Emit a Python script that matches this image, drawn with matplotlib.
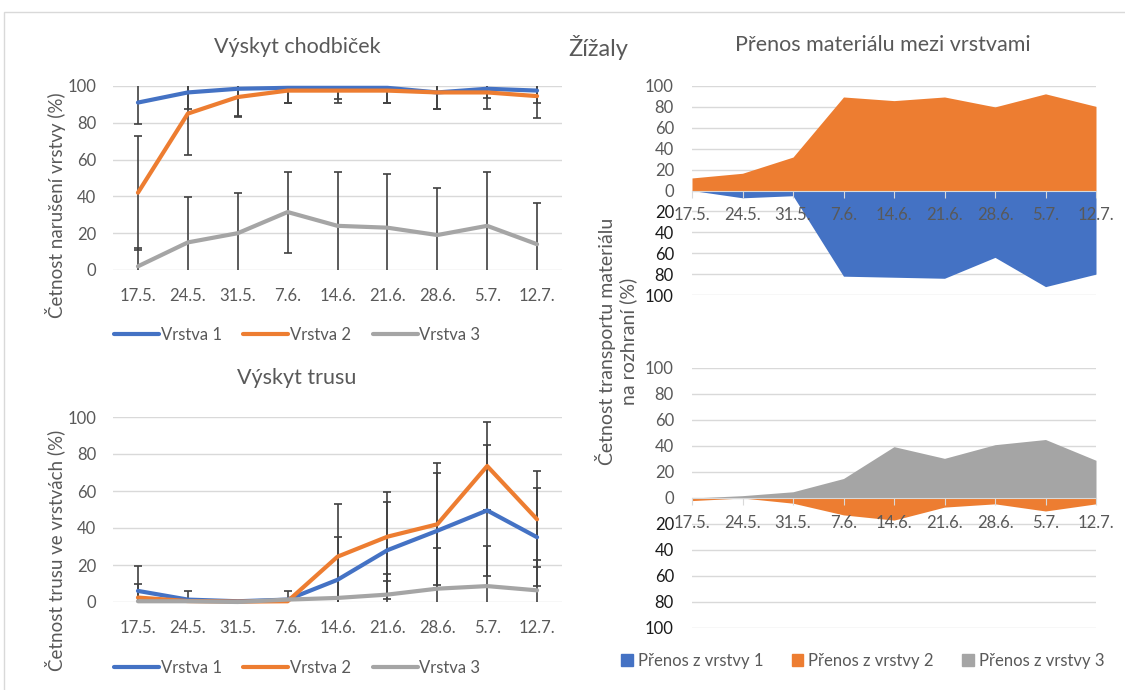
import matplotlib.pyplot as plt
import numpy as np
from matplotlib.patches import Patch, Rectangle

plt.rcParams['font.family'] = ['Lato', 'DejaVu Sans']

# data
datumy = ['17.5.', '24.5.', '31.5.', '7.6.', '14.6.', '21.6.', '28.6.', '5.7.', '12.7.']
vrstvy = ['Vrstva 1', 'Vrstva 2', 'Vrstva 3']

# výskyt chodbiček (%) + směrodatné odchylky
chodby_v1 = [91, 96.5, 98.5, 99, 99, 99, 96.5, 98.5, 97.5]
chodby_v2 = [42, 85, 94, 97.5, 97.5, 97.5, 96.5, 96.5, 94.5]
chodby_v3 = [2, 15, 20, 31.5, 24, 23, 19, 24, 14]
chodby_v1_sd = [11.5, 9, 15, 8.5, 6, 8.5, 9, 5, 7]
chodby_v2_sd = [31, 22.5, 11, 7, 7, 7, 9, 9, 12]
chodby_v3_sd = [10, 24.5, 22, 22, 29.5, 29, 25.5, 29, 22.5]

# výskyt trusu (%)
trus_v1 = [6, 1.3, 0.4, 1.3, 12, 28, 38.5, 49.5, 35]
trus_v2 = [2.4, 0.5, 0.2, 0.4, 24.5, 35.3, 42, 73.5, 44.7]
trus_v3 = [0.4, 0.4, 0, 1.3, 2.2, 4, 7.2, 8.6, 6.3]
trus_v1_sd = [13.5, 4.8, 0, 0, 23, 26.3, 31, 35.5, 26.5]
trus_v2_sd = [7.2, 0, 0, 0, 28.5, 24, 33, 24, 26]
trus_v3_sd = [0, 0, 0, 4.8, 0, 11.3, 22, 21.8, 16.3]

# přenos materiálu mezi vrstvami (%)
prenos_rozhrani_12_z1 = [0, 7, 5, 82, 83, 84, 64, 92, 80]
prenos_rozhrani_12_z2 = [12, 16.5, 32, 89.5, 86, 89.5, 80, 92.5, 80.5]
prenos_rozhrani_23_z2 = [2, 0, 4, 13, 17, 7, 4.5, 10, 4.5]
prenos_rozhrani_23_z3 = [0, 1.8, 4.8, 15, 39.5, 30.5, 41, 45, 29]
legenda_prenos = ['Přenos z vrstvy 1', 'Přenos z vrstvy 2', 'Přenos z vrstvy 3']

modra = '#4472C4'
oranzova = '#ED7D31'
seda = '#A5A5A5'
text_seda = '#595959'
mrizka = '#D9D9D9'

W, H = 1125, 690
fig = plt.figure(figsize=(W / 100, H / 100), dpi=100)


def osa(x0, y0, x1, y1):
    return fig.add_axes([x0 / W, 1 - y1 / H, (x1 - x0) / W, (y1 - y0) / H])


def carovy_graf(ax, rady, odchylky):
    x = np.arange(len(datumy))
    for hodnoty, sd, barva, jmeno in zip(rady, odchylky, [modra, oranzova, seda], vrstvy):
        hodnoty = np.array(hodnoty, dtype=float)
        sd = np.array(sd, dtype=float)
        m = sd > 0
        ax.errorbar(x[m], hodnoty[m], yerr=sd[m], fmt='none', ecolor='#404040',
                    elinewidth=1.2, capsize=3, capthick=1.2, zorder=2)
        ax.plot(x, hodnoty, color=barva, lw=3, label=jmeno, zorder=3,
                solid_capstyle='round', clip_on=False)
    ax.set_xlim(-0.5, len(datumy) - 0.5)
    ax.set_ylim(0, 100)
    ax.set_yticks(range(0, 101, 20))
    ax.set_xticks(x, datumy)
    ax.grid(axis='y', color=mrizka, lw=1, zorder=1)
    for s in ax.spines.values():
        s.set_visible(False)
    ax.tick_params(length=0, labelcolor=text_seda, labelsize=12)
    ax.tick_params(axis='x', pad=13)
    ax.tick_params(axis='y', pad=12)


def plosny_graf(ax, nahoru, dolu, barva_nahoru, barva_dolu):
    x = np.arange(len(datumy))
    ax.fill_between(x, 0, nahoru, color=barva_nahoru, lw=0, zorder=1)
    ax.fill_between(x, 0, -np.array(dolu), color=barva_dolu, lw=0, zorder=1)
    for v in range(-100, 101, 20):
        ax.axhline(v, color=mrizka, lw=1, zorder=0.5)
    ax.set_xlim(0, len(datumy) - 1)
    ax.set_ylim(-100, 100)
    for s in ['top', 'left', 'right']:
        ax.spines[s].set_visible(False)
    ax.spines['bottom'].set_position(('data', 0))
    ax.spines['bottom'].set_color(mrizka)
    ax.set_xticks(x, datumy)
    ax.tick_params(axis='x', length=5, color=mrizka, direction='out', pad=7,
                   labelcolor=text_seda, labelsize=12)
    yt = list(range(-100, 101, 20))
    ax.set_yticks(yt, [str(abs(v)) for v in yt])
    ax.tick_params(axis='y', length=0, pad=13, labelsize=12)
    for v, lab in zip(yt, ax.get_yticklabels()):
        lab.set_color('#1a1a1a' if v < 0 else text_seda)


# chodbičky
ax1 = osa(113, 86, 562, 270)
carovy_graf(ax1, [chodby_v1, chodby_v2, chodby_v3],
            [chodby_v1_sd, chodby_v2_sd, chodby_v3_sd])
ax1.legend(loc='center left', bbox_to_anchor=(114 / W, 1 - 335 / H),
           bbox_transform=fig.transFigure, ncol=3, frameon=False, fontsize=12,
           labelcolor=text_seda, handlelength=2.7, handletextpad=0.1,
           columnspacing=1.3, borderpad=0, borderaxespad=0)

# trus
ax2 = osa(113, 417, 562, 602)
carovy_graf(ax2, [trus_v1, trus_v2, trus_v3],
            [trus_v1_sd, trus_v2_sd, trus_v3_sd])
ax2.legend(loc='center left', bbox_to_anchor=(114 / W, 1 - 668 / H),
           bbox_transform=fig.transFigure, ncol=3, frameon=False, fontsize=12,
           labelcolor=text_seda, handlelength=2.7, handletextpad=0.1,
           columnspacing=1.3, borderpad=0, borderaxespad=0)

# přenos materiálu
ax3 = osa(692, 86, 1096, 295)
plosny_graf(ax3, prenos_rozhrani_12_z2, prenos_rozhrani_12_z1, oranzova, modra)
ax4 = osa(692, 368, 1096, 628)
plosny_graf(ax4, prenos_rozhrani_23_z3, prenos_rozhrani_23_z2, seda, oranzova)

znacky = [Patch(color=c) for c in [modra, oranzova, seda]]
fig.legend(znacky, legenda_prenos, loc='center left',
           bbox_to_anchor=(621 / W, 1 - 661 / H), ncol=3, frameon=False,
           fontsize=12, labelcolor=text_seda, handlelength=0.7, handleheight=0.7,
           handletextpad=0.3, columnspacing=1.7, borderpad=0, borderaxespad=0)

# nadpisy a popisky os
fig.text(297 / W, 1 - 47 / H, 'Výskyt chodbiček', ha='center', va='center',
         fontsize=15.5, color=text_seda)
fig.text(297 / W, 1 - 378 / H, 'Výskyt trusu', ha='center', va='center',
         fontsize=15.5, color=text_seda)
fig.text(598 / W, 1 - 47 / H, 'Žížaly', ha='center', va='center',
         fontsize=17, color=text_seda)
fig.text(883 / W, 1 - 45 / H, 'Přenos materiálu mezi vrstvami', ha='center',
         va='center', fontsize=15.5, color=text_seda)
fig.text(55 / W, 1 - 205 / H, 'Četnost narušení vrstvy (%)', rotation=90,
         ha='center', va='center', fontsize=13.5, color=text_seda)
fig.text(55 / W, 1 - 550 / H, 'Četnost trusu ve vrstvách (%)', rotation=90,
         ha='center', va='center', fontsize=13.5, color=text_seda)
fig.text(616 / W, 1 - 341 / H, 'Četnost transportu materiálu\nna rozhraní (%)',
         rotation=90, ha='center', va='center', multialignment='center',
         fontsize=14, color=text_seda, linespacing=1.2)

# rámeček kolem celé plochy
fig.patches.append(Rectangle((4 / W, -0.01), 1.0, 1 - 12 / H + 0.01,
                             transform=fig.transFigure, fill=False,
                             edgecolor=mrizka, lw=1))

fig.savefig('out.png', dpi=100)
